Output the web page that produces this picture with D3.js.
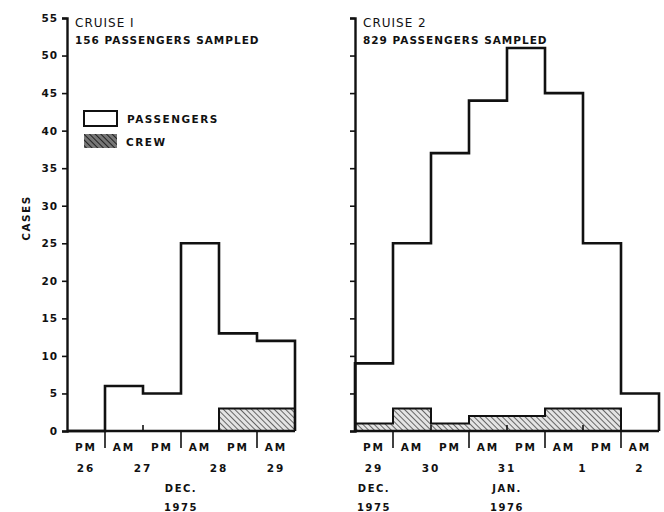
<!DOCTYPE html>
<html>
<head>
<meta charset="utf-8">
<title>Cruise cases</title>
<style>
  body { margin: 0; background: #fff; }
  svg text { font-family: "DejaVu Sans", sans-serif; font-weight: bold; fill: #111; }
</style>
</head>
<body>
<script src="https://d3js.org/d3.v7.min.js"></script>
<div id="container"></div>
<script>
// cruise 1: half-day bins PM26 .. AM29 (Dec 1975)
var halves1 = ["PM", "AM", "PM", "AM", "PM", "AM"];
var passengers1 = [0, 6, 5, 25, 13, 12];
var crew1 = [0, 0, 0, 0, 3, 3];
var days1 = [{t: "26", at: 0.5}, {t: "27", at: 2}, {t: "28", at: 4}, {t: "29", at: 5.5}];
var months1 = [{t: "DEC.", at: 3}, {t: "1975", at: 3}];

// cruise 2: PM29 Dec .. AM2 Jan
var halves2 = ["PM", "AM", "PM", "AM", "PM", "AM", "PM", "AM"];
var passengers2 = [9, 25, 37, 44, 51, 45, 25, 5];
var crew2 = [1, 3, 1, 2, 2, 3, 3, 0];
var days2 = [{t: "29", at: 0.5}, {t: "30", at: 2}, {t: "31", at: 4}, {t: "1", at: 6}, {t: "2", at: 7.5}];
var months2 = [{t: "DEC.", at: 0.5}, {t: "1975", at: 0.5}, {t: "JAN.", at: 4}, {t: "1976", at: 4}];

var yTicks = [0, 5, 10, 15, 20, 25, 30, 35, 40, 45, 50, 55];

const width = 664, height = 512;

var svg = d3.select("#container").append("svg")
    .attr("width", width)
    .attr("height", height)
    .style("display", "block");

var defs = svg.append("defs");
var pat = defs.append("pattern")
    .attr("id", "hatch")
    .attr("patternUnits", "userSpaceOnUse")
    .attr("width", 4).attr("height", 4)
    .attr("patternTransform", "rotate(-45)");
pat.append("rect").attr("width", 4).attr("height", 4).attr("fill", "#e4e4e4");
pat.append("line").attr("x1", 0).attr("y1", 0).attr("x2", 0).attr("y2", 4)
    .attr("stroke", "#444").attr("stroke-width", 1.6);

var patDark = defs.append("pattern")
    .attr("id", "hatchDark")
    .attr("patternUnits", "userSpaceOnUse")
    .attr("width", 4).attr("height", 4)
    .attr("patternTransform", "rotate(-45)");
patDark.append("rect").attr("width", 4).attr("height", 4).attr("fill", "#777");
patDark.append("line").attr("x1", 0).attr("y1", 0).attr("x2", 0).attr("y2", 4)
    .attr("stroke", "#222").attr("stroke-width", 2);

var y = d3.scaleLinear().domain([0, 55]).range([431, 18]);

function panel(opts) {
  var n = opts.passengers.length;
  var x = d3.scaleLinear().domain([0, n]).range(opts.range);
  var g = svg.append("g");

  // crew hatched bars
  g.selectAll("rect.crew")
    .data(opts.crew)
    .enter().append("rect")
    .attr("class", "crew")
    .attr("x", function(d, i) { return x(i); })
    .attr("width", x(1) - x(0))
    .attr("y", function(d) { return y(d); })
    .attr("height", function(d) { return y(0) - y(d); })
    .attr("fill", "url(#hatch)");

  function stepPts(vals) {
    var pts = [[0, 0]];
    vals.forEach(function(v, i) { pts.push([i, v]); pts.push([i + 1, v]); });
    pts.push([n, 0]);
    return pts;
  }
  var line = d3.line()
    .x(function(p) { return x(p[0]); })
    .y(function(p) { return y(p[1]); });

  g.append("path")
    .attr("d", line(stepPts(opts.crew)))
    .attr("fill", "none").attr("stroke", "#111").attr("stroke-width", 2);

  g.append("path")
    .attr("d", line(stepPts(opts.passengers)))
    .attr("fill", "none").attr("stroke", "#111").attr("stroke-width", 2.6)
    .attr("stroke-linejoin", "miter");

  // baseline
  g.append("line")
    .attr("x1", x(0)).attr("x2", x(n))
    .attr("y1", y(0)).attr("y2", y(0))
    .attr("stroke", "#111").attr("stroke-width", 2.6);

  // y axis
  var yAxis = d3.axisLeft(y).tickValues(yTicks).tickSize(5).tickPadding(4)
    .tickFormat(opts.yLabels ? d3.format("d") : "");
  var ya = g.append("g")
    .attr("transform", "translate(" + x(0) + ",0)")
    .call(yAxis);
  ya.select(".domain").attr("stroke", "#111").attr("stroke-width", 2.4);
  ya.selectAll(".tick line").attr("stroke", "#111").attr("stroke-width", 1.6);
  ya.selectAll("text").style("font-size", "10.5px").style("letter-spacing", "1px")
    .style("font-family", "'DejaVu Sans', sans-serif").style("font-weight", "bold");

  // day boundary ticks (down) and noon ticks (up)
  for (var i = 1; i < n; i++) {
    var midnight = (opts.halves[i] == "AM");
    g.append("line")
      .attr("x1", x(i)).attr("x2", x(i))
      .attr("y1", midnight ? y(0) : y(0) - 6)
      .attr("y2", midnight ? y(0) + 17 : y(0))
      .attr("stroke", "#111").attr("stroke-width", 1.6);
  }

  g.selectAll("text.half")
    .data(opts.halves)
    .enter().append("text")
    .attr("class", "half")
    .attr("x", function(d, i) { return x(i + 0.5); })
    .attr("y", y(0) + 20)
    .attr("text-anchor", "middle")
    .style("font-size", "10.5px").style("letter-spacing", "2px")
    .text(function(d) { return d; });

  g.selectAll("text.day")
    .data(opts.days)
    .enter().append("text")
    .attr("x", function(d) { return x(d.at); })
    .attr("y", y(0) + 41)
    .attr("text-anchor", "middle")
    .style("font-size", "10.5px").style("letter-spacing", "2px")
    .text(function(d) { return d.t; });

  g.selectAll("text.month")
    .data(opts.months)
    .enter().append("text")
    .attr("x", function(d) { return x(d.at); })
    .attr("y", function(d, i) { return y(0) + 61 + (i % 2) * 19; })
    .attr("text-anchor", "middle")
    .style("font-size", "10px").style("letter-spacing", "1.5px")
    .text(function(d) { return d.t; });

  g.append("text")
    .attr("x", x(0) + 8).attr("y", 27)
    .style("font-size", "12px").style("letter-spacing", "1px").style("font-weight", "normal")
    .text(opts.title);
  g.append("text")
    .attr("x", x(0) + 8).attr("y", 44)
    .style("font-size", "10.5px").style("letter-spacing", "1px")
    .text(opts.subtitle);
  return x;
}

panel({range: [67, 295], passengers: passengers1, crew: crew1, halves: halves1,
       days: days1, months: months1, yLabels: true,
       title: "CRUISE I", subtitle: "156 PASSENGERS SAMPLED"});
panel({range: [355, 659], passengers: passengers2, crew: crew2, halves: halves2,
       days: days2, months: months2, yLabels: false,
       title: "CRUISE 2", subtitle: "829 PASSENGERS SAMPLED"});

// legend
var lg = svg.append("g");
lg.append("rect").attr("x", 84).attr("y", 111).attr("width", 33).attr("height", 15)
  .attr("fill", "#fff").attr("stroke", "#111").attr("stroke-width", 2);
lg.append("text").attr("x", 127).attr("y", 123).style("font-size", "10.5px")
  .style("letter-spacing", "1.5px").text("PASSENGERS");
lg.append("rect").attr("x", 84).attr("y", 134).attr("width", 33).attr("height", 14)
  .attr("fill", "url(#hatchDark)");
lg.append("text").attr("x", 126).attr("y", 146).style("font-size", "10.5px")
  .style("letter-spacing", "1.5px").text("CREW");

// y label
svg.append("text")
  .attr("transform", "translate(30,218)rotate(-90)")
  .attr("text-anchor", "middle")
  .style("font-size", "10.5px").style("letter-spacing", "1.5px")
  .text("CASES");
</script>
</body>
</html>
